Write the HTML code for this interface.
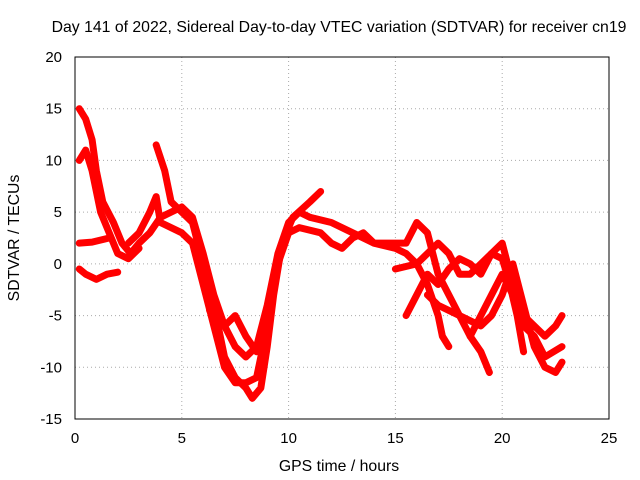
<!DOCTYPE html>
<html><head><meta charset="utf-8"><style>
body{margin:0;background:#fff}
svg{display:block;font-family:"Liberation Sans",sans-serif}
</style></head><body>
<svg id="chart" width="640" height="480">
<text x="339" y="32" text-anchor="middle" font-size="15.8">Day 141 of 2022, Sidereal Day-to-day VTEC variation (SDTVAR) for receiver cn19</text>
<text x="339" y="471" text-anchor="middle" font-size="15.8">GPS time / hours</text>
<text transform="translate(19,238) rotate(-90)" text-anchor="middle" font-size="15.8">SDTVAR / TECUs</text>
<g id="grid"></g><g id="series"></g>
<rect x="75" y="57" width="534" height="362" fill="none" stroke="#000"/>
</svg>
<script>
const xTicks=[0,5,10,15,20,25];
const yTicks=[-15,-10,-5,0,5,10,15,20];
const s1=[[0.2,15],[0.5,14],[0.8,12],[1.0,9],[1.3,6],[1.8,4],[2.2,2],[2.6,1],[3.0,2],[3.5,3],[4.0,4.5],[4.5,5],[5.0,5.5],[5.5,4.5],[6,1],[6.5,-3],[7,-6],[7.5,-8],[8,-9],[8.5,-8],[9,-4],[9.5,1],[10,4],[10.5,5],[11,4.5],[12,4],[13,3],[14,2],[15,1.5],[15.5,1],[16,0],[16.5,-2],[17,-5],[17.2,-7],[17.5,-8]];
const s2=[[0.2,10],[0.5,11],[0.8,9],[1.2,5],[1.6,3],[2.0,1],[2.5,0.5],[3.0,1.5]];
const s3=[[0.2,-0.5],[0.5,-1],[1,-1.5],[1.5,-1],[2,-0.8]];
const s4=[[0.2,2],[0.8,2.1],[1.6,2.5]];
const s5=[[3.8,11.5],[4.2,9],[4.5,6],[5,5],[5.5,4],[6,0],[6.5,-4],[7,-9],[7.5,-11],[8,-12],[8.3,-13],[8.7,-12],[9,-8],[9.3,-3],[9.7,2],[10.2,4.5],[11,6],[11.5,7]];
const s6=[[2.5,2],[3,3],[3.5,5],[3.8,6.5],[4,4],[5,3],[5.5,2],[6,-2],[6.5,-6],[7,-10],[7.5,-11.5],[8,-11.5],[8.5,-11],[9,-6],[9.5,0],[10,3],[10.5,3.5],[11.5,3],[12,2],[12.5,1.5],[13,2.5],[13.5,3],[14,2],[15,2],[15.5,2],[16,4],[16.5,3],[17,-1],[17.5,-3],[18,-5],[18.5,-7],[19,-8.5],[19.4,-10.5]];
const s7=[[6.3,-4.5],[7,-6],[7.5,-5],[8,-7],[8.5,-8.5]];
const s8=[[15.5,-5],[16,-3],[16.5,-1],[17,-2],[17.5,-0.5],[18,0.5],[18.5,0],[19,-1],[19.5,1],[20,2],[20.5,-2],[21,-5],[21.5,-6],[22,-7],[22.5,-6],[22.8,-5]];
const s9=[[16.5,-3],[17,-4],[18,-5],[19,-6],[19.5,-5],[20,-3],[20.5,0],[21,-4],[21.5,-8],[22,-10],[22.5,-10.5],[22.8,-9.5]];
const s10=[[18.5,-7],[19,-5],[19.5,-3],[20,-1],[20.5,-3],[21,-6],[21.5,-7],[22,-9],[22.8,-8]];
const s11=[[15,-0.5],[16,0],[16.5,1],[17,2],[17.5,1],[18,-1],[18.5,-1],[19,0],[19.5,1],[20,0.5],[20.3,-1.5],[20.7,-5],[21,-8.5]];
const allSeries=[s1,s2,s3,s4,s5,s6,s7,s8,s9,s10,s11];
const NS="http://www.w3.org/2000/svg";
const xs=v=>75+(v-0)/25*534, ys=v=>419-(v+15)/35*362;
const grid=document.getElementById('grid'), ser=document.getElementById('series');
xTicks.forEach(t=>{
 const x=xs(t);
 if(t>0&&t<25){const l=document.createElementNS(NS,'line');
 l.setAttribute('x1',x);l.setAttribute('x2',x);l.setAttribute('y1',57);l.setAttribute('y2',419);
 l.setAttribute('stroke','#aaa');l.setAttribute('stroke-dasharray','1,3');
 
 grid.appendChild(l);}
 const tx=document.createElementNS(NS,'text');tx.setAttribute('x',x);tx.setAttribute('y',443);
 tx.setAttribute('text-anchor','middle');tx.setAttribute('font-size','15');tx.textContent=t;
 
 grid.appendChild(tx);
});
yTicks.forEach(t=>{
 const y=ys(t);
 if(t>-15&&t<20){const l=document.createElementNS(NS,'line');
 l.setAttribute('x1',75);l.setAttribute('x2',609);l.setAttribute('y1',y);l.setAttribute('y2',y);
 l.setAttribute('stroke','#aaa');l.setAttribute('stroke-dasharray','1,3');
 
 grid.appendChild(l);}
 const tx=document.createElementNS(NS,'text');tx.setAttribute('x',62);tx.setAttribute('y',y+5);
 tx.setAttribute('text-anchor','end');tx.setAttribute('font-size','15');tx.textContent=t;
 
 grid.appendChild(tx);
});
allSeries.forEach((s,i)=>{
 const p=document.createElementNS(NS,'polyline');
 p.setAttribute('points',s.map(d=>xs(d[0])+','+ys(d[1])).join(' '));
 p.setAttribute('fill','none');p.setAttribute('stroke','#f00');p.setAttribute('stroke-width','7');
 p.setAttribute('stroke-linejoin','round');p.setAttribute('stroke-linecap','round');
 
 ser.appendChild(p);
});
</script>
</body></html>
